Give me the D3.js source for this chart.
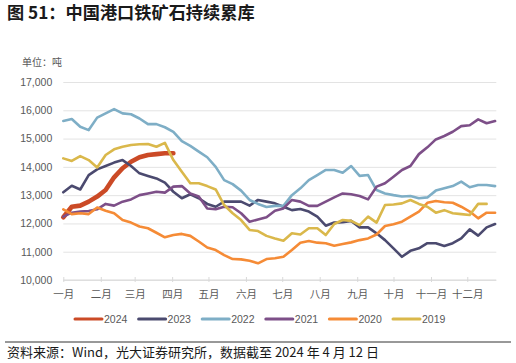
<!DOCTYPE html>
<html><head><meta charset="utf-8">
<script src="https://cdn.jsdelivr.net/npm/d3@7"></script>
<style>
html,body{margin:0;padding:0;background:#fff;}
svg{display:block;}
</style></head>
<body>
<svg id="chart" width="516" height="363"></svg>
<script>
// ---- data ----
const monthLabels = ["一月","二月","三月","四月","五月","六月","七月","八月","九月","十月","十一月","十二月"];
const monthStartDays = [0,31,59,90,120,151,181,212,243,273,304,334];
const yTicks = [10000,11000,12000,13000,14000,15000,16000,17000];
const seriesNames = ["2024","2023","2022","2021","2020","2019"];
const seriesColors = ["#cb4a26","#4b4a6f","#7eaec6","#7d4f88","#f58b36","#dab84b"];
// weekly values (thousand tonnes x1000 = 吨), week i at day 7*i
const v2024 = [12.22,12.59,12.63,12.77,12.95,13.18,13.63,13.95,14.18,14.34,14.42,14.45,14.48,14.48];
const v2023 = [13.10,13.33,13.20,13.71,13.91,14.03,14.15,14.24,14.03,13.77,13.68,13.59,13.44,13.12,12.89,13.03,12.89,12.69,12.59,12.77,12.77,12.77,12.63,12.83,12.77,12.71,12.59,
               12.47,12.51,12.42,12.24,11.92,12.03,12.04,12.09,11.86,11.86,11.65,11.41,11.12,10.82,11.03,11.12,11.30,11.30,11.20,11.30,11.47,11.79,11.57,11.86,11.98];
const v2022 = [15.62,15.69,15.42,15.30,15.74,15.89,16.04,15.89,15.86,15.71,15.51,15.51,15.40,15.24,14.91,14.74,14.54,14.34,14.00,13.53,13.39,13.16,12.83,12.69,12.58,12.62,12.62,
               13.00,13.24,13.53,13.71,13.89,13.89,13.79,14.03,13.68,13.71,13.18,13.06,13.00,12.95,12.97,12.89,12.92,13.16,13.24,13.32,13.48,13.28,13.36,13.36,13.32];
const v2021 = [12.24,12.38,12.42,12.44,12.50,12.69,12.63,12.77,12.85,13.00,13.06,13.12,13.09,13.30,13.32,13.06,12.95,12.53,12.50,12.59,12.57,12.36,12.06,12.14,12.22,12.45,12.53,
               12.83,12.77,12.62,12.62,12.77,12.92,13.06,13.03,12.97,12.85,13.30,13.42,13.65,13.89,14.03,14.45,14.69,14.97,15.09,15.24,15.44,15.47,15.68,15.54,15.62];
const v2020 = [12.50,12.33,12.36,12.33,12.56,12.45,12.36,12.12,12.03,11.89,11.83,11.67,11.51,11.59,11.63,11.56,11.36,11.15,11.06,10.88,10.74,10.73,10.68,10.59,10.74,10.77,10.82,
               11.06,11.32,11.38,11.32,11.30,11.21,11.27,11.33,11.41,11.47,11.61,11.91,11.97,12.06,12.24,12.42,12.73,12.79,12.75,12.73,12.59,12.42,12.18,12.38,12.38];
const v2019 = [14.30,14.21,14.38,14.24,13.98,14.42,14.62,14.71,14.77,14.80,14.81,14.71,14.85,14.24,13.83,13.42,13.42,13.32,13.20,12.65,12.36,12.12,11.77,11.73,11.56,11.47,11.39,
               11.65,11.61,11.83,11.83,11.59,11.98,12.12,12.09,11.94,12.24,12.03,12.65,12.67,12.71,12.83,12.69,12.59,12.38,12.47,12.36,12.33,12.30,12.69,12.69];
const seriesValues = [v2024,v2023,v2022,v2021,v2020,v2019];

// ---- chart ----
const svg = d3.select("#chart");
const cjk = "'Noto Sans CJK SC','Noto Sans',sans-serif";
const latin = "'Liberation Sans','Noto Sans CJK SC',sans-serif";
const textColor = "#595959";

const x = d3.scaleLinear().domain([0,358]).range([63.3,496.3]);
const y = d3.scaleLinear().domain([10000,17000]).range([280,82]);

// title
svg.append("text").attr("x",7).attr("y",19)
  .attr("font-family",cjk).attr("font-weight","bold").attr("font-size",17.2)
  .attr("fill","#1a1a1a").text("图 51：中国港口铁矿石持续累库");

// unit
svg.append("text").attr("x",22).attr("y",66)
  .attr("font-family",cjk).attr("font-size",10).attr("fill",textColor).text("单位：吨");

// gridlines + y labels
const yAxis = d3.axisLeft(y).tickValues(yTicks).tickFormat(d3.format(",")).tickSize(-(x.range()[1]-x.range()[0])).tickPadding(11);
const gy = svg.append("g").attr("transform",`translate(${x.range()[0]},0)`).call(yAxis);
gy.select(".domain").remove();
gy.selectAll(".tick line").attr("stroke","#e3e3e3").attr("stroke-width",1);
gy.selectAll(".tick text").attr("font-family",latin).attr("font-size",10.5).attr("fill",textColor);

// x axis
const xAxis = d3.axisBottom(x).tickValues(monthStartDays).tickFormat((d,i)=>monthLabels[i]).tickSize(4).tickPadding(7);
const gx = svg.append("g").attr("transform",`translate(0,${y(10000)})`).call(xAxis);
gx.select(".domain").attr("stroke","#d9d9d9").attr("d",`M${x.range()[0]},0H${x.range()[1]}`);
gx.selectAll(".tick line").attr("stroke","#d9d9d9").attr("y1",-3).attr("y2",2);
gx.selectAll(".tick text").attr("font-family",cjk).attr("font-size",10.5).attr("fill",textColor);

// lines
const line = d3.line().x((d,i)=>x(7*i)).y(d=>y(d*1000));
seriesValues.forEach((vals,k)=>{
  svg.append("path").datum(vals).attr("d",line)
    .attr("fill","none").attr("stroke",seriesColors[k])
    .attr("stroke-width",k===0?4.6:2.6).attr("stroke-linejoin","round").attr("stroke-linecap","round");
});

// legend
const lg = svg.append("g");
seriesNames.forEach((n,k)=>{
  const lx = 75 + k*63.6;
  lg.append("line").attr("x1",lx).attr("x2",lx+27).attr("y1",319).attr("y2",319)
    .attr("stroke",seriesColors[k]).attr("stroke-width",3).attr("stroke-linecap","round");
  lg.append("text").attr("x",lx+29).attr("y",323).attr("font-family",latin).attr("font-size",10.5)
    .attr("fill",textColor).text(n);
});

// footer
svg.append("line").attr("x1",5).attr("x2",511).attr("y1",342).attr("y2",342).attr("stroke","#333").attr("stroke-width",1);
svg.append("text").attr("x",7).attr("y",357).attr("font-family",cjk).attr("font-size",13)
  .attr("fill","#1a1a1a").text("资料来源：Wind，光大证券研究所，数据截至 2024 年 4 月 12 日");
</script>
</body></html>
